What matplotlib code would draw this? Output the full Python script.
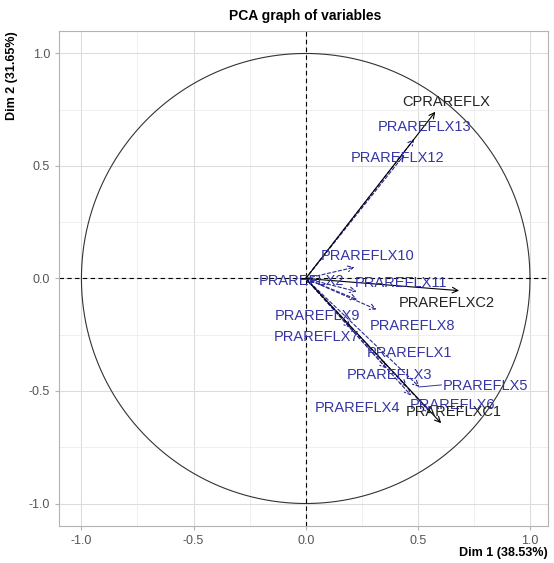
import numpy as np
import matplotlib
matplotlib.use("Agg")
import matplotlib.pyplot as plt

plt.rcParams['font.family'] = ['Liberation Sans', 'DejaVu Sans']
plt.rcParams['axes.unicode_minus'] = False

# active variables (black, solid)
act_names = ["CPRAREFLX", "PRAREFLXC2", "PRAREFLXC1"]
act_x = [0.578, 0.684, 0.604]
act_y = [0.741, -0.054, -0.643]
act_lx = [0.627, 0.627, 0.662]
act_ly = [0.786, -0.107, -0.594]

# supplementary variables (blue, dashed)
sup_names = ["PRAREFLX1", "PRAREFLX2", "PRAREFLX3", "PRAREFLX4", "PRAREFLX5",
             "PRAREFLX6", "PRAREFLX7", "PRAREFLX8", "PRAREFLX9", "PRAREFLX10",
             "PRAREFLX11", "PRAREFLX12", "PRAREFLX13"]
sup_x = [0.36, 0.04, 0.45, 0.47, 0.507, 0.56, 0.20, 0.316, 0.23, 0.218, 0.227, 0.44, 0.484]
sup_y = [-0.40, -0.02, -0.48, -0.52, -0.482, -0.60, -0.22, -0.138, -0.094, 0.05, -0.058, 0.55, 0.62]
sup_lx = [0.462, -0.018, 0.373, 0.231, 0.80, 0.653, 0.049, 0.476, 0.053, 0.276, 0.427, 0.409, 0.529]
sup_ly = [-0.33, -0.009, -0.429, -0.576, -0.478, -0.5625, -0.259, -0.21, -0.165, 0.098, -0.018, 0.536, 0.674]

blue = '#3535a5'

fig = plt.figure(figsize=(5.54, 5.63), dpi=100)
ax = fig.add_axes([0.1065, 0.0657, 0.8825, 0.8793])

ax.set_xlim(-1.10, 1.08)
ax.set_ylim(-1.10, 1.10)

# grid like ggplot theme_light
ax.set_xticks([-1.0, -0.5, 0.0, 0.5, 1.0])
ax.set_yticks([-1.0, -0.5, 0.0, 0.5, 1.0])
ax.set_xticks(np.arange(-1.0, 1.01, 0.25), minor=True)
ax.set_yticks(np.arange(-1.0, 1.01, 0.25), minor=True)
ax.grid(which='major', color='#dcdcdc', lw=0.8)
ax.grid(which='minor', color='#ececec', lw=0.6)
ax.set_axisbelow(True)
ax.tick_params(which='both', length=0)
ax.tick_params(which='major', length=3, color='#b3b3b3', labelsize=9, labelcolor='#555555')
for s in ax.spines.values():
    s.set_color('#b3b3b3')
    s.set_linewidth(0.8)

t = np.linspace(0, 2 * np.pi, 400)
ax.plot(np.cos(t), np.sin(t), color='#333333', lw=0.8)
ax.axhline(0, color='black', ls=(0, (4, 3)), lw=0.8)
ax.axvline(0, color='black', ls=(0, (4, 3)), lw=0.8)

for x, y in zip(sup_x, sup_y):
    ax.annotate('', xy=(x, y), xytext=(0, 0),
                arrowprops=dict(arrowstyle='->,head_length=0.4,head_width=0.2',
                                color='#2a2a90', lw=0.8, ls=(0, (3, 2)),
                                shrinkA=0, shrinkB=0))
for x, y in zip(act_x, act_y):
    ax.annotate('', xy=(x, y), xytext=(0, 0),
                arrowprops=dict(arrowstyle='->,head_length=0.4,head_width=0.2',
                                color='black', lw=0.8, shrinkA=0, shrinkB=0))

# repel segment for PRAREFLX5
i5 = sup_names.index("PRAREFLX5")
ax.plot([sup_x[i5], sup_lx[i5] - 0.195], [sup_y[i5], sup_ly[i5] + 0.005], color=blue, lw=0.7)

for n, x, y in zip(sup_names, sup_lx, sup_ly):
    ax.text(x, y, n, color=blue, fontsize=10.5, ha='center', va='center')
for n, x, y in zip(act_names, act_lx, act_ly):
    ax.text(x, y, n, color='#222222', fontsize=10.5, ha='center', va='center')

fig.text(0.551, 0.971, "PCA graph of variables", ha='center', va='center',
         fontsize=10, fontweight='bold')
fig.text(0.989, 0.018, "Dim 1 (38.53%)", ha='right', va='center',
         fontsize=9, fontweight='bold')
fig.text(0.022, 0.945, "Dim 2 (31.65%)", ha='center', va='top',
         fontsize=9, fontweight='bold', rotation=90)

fig.savefig("out.png", dpi=100)
